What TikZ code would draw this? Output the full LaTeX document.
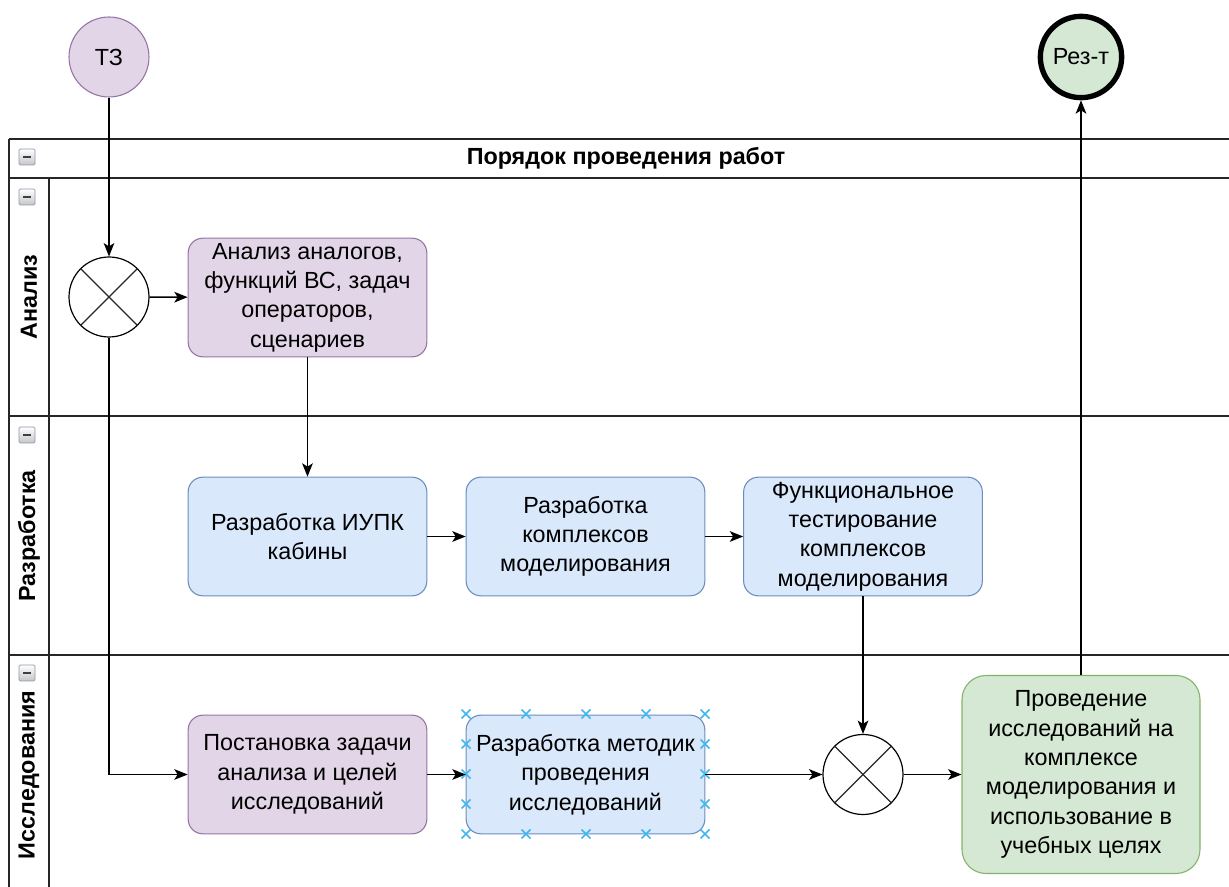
\documentclass[tikz,border=0pt]{standalone}
\usepackage{fontspec}
\setmainfont{Liberation Sans}
\usetikzlibrary{arrows.meta}
\definecolor{purpleFill}{HTML}{E1D5E7}
\definecolor{purpleLine}{HTML}{9673A6}
\definecolor{blueFill}{HTML}{DAE8FC}
\definecolor{blueLine}{HTML}{6C8EBF}
\definecolor{greenFill}{HTML}{D5E8D4}
\definecolor{greenLine}{HTML}{82B366}
\definecolor{handleBlue}{HTML}{3FB6EF}
\definecolor{iconLine}{HTML}{8A98AC}

\begin{document}
\begin{tikzpicture}[x=0.75pt,y=-0.75pt,
  font=\fontsize{17.5}{22}\selectfont,
  poolline/.style={draw=black!85,line width=1.3pt},
  taskbox/.style={rectangle,rounded corners=11pt,draw,line width=0.8pt,align=center,
    minimum width=179pt,minimum height=89pt,inner sep=2pt},
  anatask/.style={taskbox,fill=purpleFill,draw=purpleLine},
  devtask/.style={taskbox,fill=blueFill,draw=blueLine},
  restask/.style={taskbox,fill=greenFill,draw=greenLine,rounded corners=18pt,
    minimum width=178.5pt,minimum height=148.5pt},
  event/.style={circle,minimum size=60pt,inner sep=0pt},
  gateway/.style={circle,draw=black,line width=0.9pt,fill=white,minimum size=60pt,inner sep=0pt},
  gatecross/.style={draw=black!85,line width=0.9pt},
  flow/.style={draw=black,line width=1.1pt,-{Stealth[length=10pt,width=8pt,inset=2.5pt]}},
  lanelabel/.style={rotate=90,font=\fontsize{17.5}{22}\selectfont\bfseries},
  handlemark/.style={draw=handleBlue,line width=1.1pt}]
\useasboundingbox (0,0) rectangle (1229,887);
% pool and lanes:
\path[poolline] (9,139) -- (1229,139);
\path[poolline] (9,178) -- (1229,178);
\path[poolline] (9,416) -- (1229,416);
\path[poolline] (9,655) -- (1229,655);
\path[poolline] (9,139) -- (9,887);
\path[poolline] (49,178) -- (49,887);
\node[font=\fontsize{17.5}{22}\selectfont\bfseries] (pooltitle) at (626,158) {Порядок проведения работ};
\node[lanelabel] (laneana) at (29,297) {Анализ};
\node[lanelabel] (lanedev) at (29,536) {Разработка};
\node[lanelabel] (laneres) at (29,775) {Исследования};
% collapse icons:
\foreach \iy in {157,197,435,673} {
  \path[draw=iconLine,top color=white,bottom color=gray!45,rounded corners=1pt,line width=0.6pt]
    (19,\iy-8) rectangle (35,\iy+8);
  \path[draw=black!75,line width=1.6pt] (23,\iy) -- (31,\iy);
}
% events and gateways:
\node[event,fill=purpleFill,draw=purpleLine,line width=0.8pt] (tz) at (109,57) {ТЗ};
\node[event,fill=greenFill,draw=black,line width=4pt,minimum size=61pt] (rez) at (1081,57) {Рез-т};
\node[gateway] (gwstart) at (109,297) {};
\node[gateway] (gwjoin) at (863,774.5) {};
\foreach \g in {gwstart,gwjoin} {
  \path[gatecross] (\g.north west) -- (\g.south east);
  \path[gatecross] (\g.north east) -- (\g.south west);
}
% tasks:
\node[anatask] (analog) at (307.5,297.5) {Анализ аналогов,\\функций ВС, задач\\операторов,\\сценариев};
\node[devtask] (iupk) at (307.5,536.5) {Разработка ИУПК\\кабины};
\node[devtask] (kompl) at (585.5,536.5) {Разработка\\комплексов\\моделирования};
\node[devtask] (functest) at (863,536.5) {Функциональное\\тестирование\\комплексов\\моделирования};
\node[anatask] (postan) at (307.5,774.5) {Постановка задачи\\анализа и целей\\исследований};
\node[devtask] (metod) at (585.5,774.5) {Разработка методик\\проведения\\исследований};
\node[restask] (provis) at (1081,774.5) {Проведение\\исследований на\\комплексе\\моделирования и\\использование в\\учебных целях};
% selection handles:
\foreach \hx in {466,526,586,646,705} {
  \path[handlemark] (\hx,714) +(-4.5,-4.5) -- +(4.5,4.5) +(-4.5,4.5) -- +(4.5,-4.5);
  \path[handlemark] (\hx,834) +(-4.5,-4.5) -- +(4.5,4.5) +(-4.5,4.5) -- +(4.5,-4.5);
}
\foreach \hy in {744,774,804} {
  \path[handlemark] (466,\hy) +(-4.5,-4.5) -- +(4.5,4.5) +(-4.5,4.5) -- +(4.5,-4.5);
  \path[handlemark] (705,\hy) +(-4.5,-4.5) -- +(4.5,4.5) +(-4.5,4.5) -- +(4.5,-4.5);
}
% flows:
\draw[flow] (tz) -- (gwstart);
\draw[flow] (gwstart) -- (analog);
\draw[flow] (gwstart.south) |- (postan.west);
\draw[flow] (analog) -- (iupk);
\draw[flow] (iupk) -- (kompl);
\draw[flow] (kompl) -- (functest);
\draw[flow] (functest) -- (gwjoin);
\draw[flow] (postan) -- (metod);
\draw[flow] (metod) -- (gwjoin);
\draw[flow] (gwjoin) -- (provis);
\draw[flow] (provis) -- (rez);
\end{tikzpicture}
\end{document}
